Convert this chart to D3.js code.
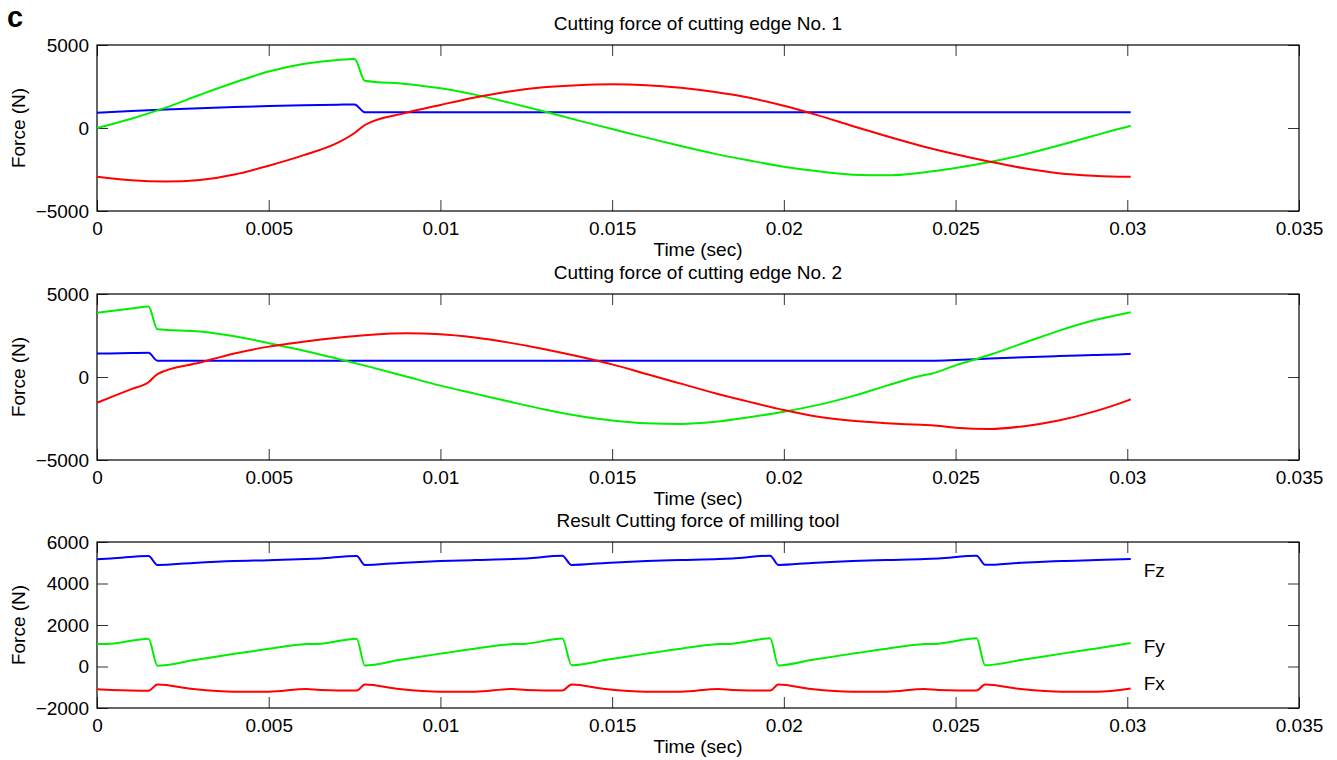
<!DOCTYPE html>
<html lang="en">
<head>
    <meta charset="UTF-8">
    <title>Cutting force</title>
    <script src="https://cdn.jsdelivr.net/npm/d3@7"></script>
    <style>
        body { margin: 0; background: #fff; }
        svg text { font-family: "Liberation Sans", Arial, sans-serif; fill: #000; }
        .tick line { stroke: #333; }
        .tick text { font-size: 19px; }
        .line { fill: none; stroke-width: 2; }
    </style>
</head>
<body>
    <svg width="1337" height="760"></svg>

    <script>
        // ---- data ----
        const xTicks = [0, 0.005, 0.01, 0.015, 0.02, 0.025, 0.03, 0.035];

        // cutting edge No. 1
        const time1 = [0, 0.001, 0.002, 0.003, 0.004, 0.005, 0.006, 0.007, 0.0075, 0.0078,
            0.009, 0.010, 0.011, 0.012, 0.013, 0.014, 0.015, 0.016, 0.017, 0.018, 0.019,
            0.020, 0.021, 0.022, 0.023, 0.024, 0.025, 0.026, 0.027, 0.028, 0.029, 0.030, 0.0301];
        const edge1Fx = [-2930, -3150, -3230, -3130, -2800, -2270, -1650, -900, -300, 180,
            910, 1390, 1840, 2200, 2450, 2580, 2630, 2580, 2420, 2170, 1820,
            1340, 760, 120, -500, -1080, -1580, -2030, -2430, -2720, -2870, -2930, -2930];
        const edge1Fy = [0, 560, 1230, 2000, 2740, 3400, 3850, 4100, 4160, 2850,
            2650, 2390, 2010, 1530, 1010, 460, -60, -580, -1090, -1560, -1960,
            -2330, -2610, -2810, -2850, -2690, -2410, -2050, -1600, -1050, -480, 80, 130];
        const edge1Fz = [920, 1020, 1110, 1190, 1260, 1320, 1370, 1400, 1420, 950,
            950, 950, 950, 950, 950, 950, 950, 950, 950, 950, 950,
            950, 950, 950, 950, 950, 950, 950, 950, 950, 950, 950, 950];

        // cutting edge No. 2
        const time2 = [0, 0.001, 0.0015, 0.00176, 0.003, 0.004, 0.005, 0.006, 0.007, 0.008,
            0.009, 0.010, 0.011, 0.012, 0.013, 0.014, 0.015, 0.016, 0.017, 0.018, 0.019,
            0.020, 0.021, 0.022, 0.023, 0.024, 0.0243, 0.025, 0.026, 0.027, 0.028, 0.029, 0.030, 0.0301];
        const edge2Fx = [-1550, -730, -320, 180, 870, 1420, 1830, 2120, 2360, 2540,
            2630, 2580, 2380, 2070, 1690, 1250, 760, 180, -400, -980, -1500,
            -1990, -2400, -2640, -2780, -2880, -2900, -3050, -3130, -2960, -2620, -2100, -1420, -1340];
        const edge2Fy = [3870, 4120, 4240, 2870, 2740, 2450, 2040, 1600, 1100, 580,
            30, -520, -1000, -1480, -1940, -2330, -2620, -2790, -2830, -2700, -2420,
            -2090, -1680, -1150, -520, 80, 200, 700, 1340, 2060, 2780, 3400, 3860, 3900];
        const edge2Fz = [1410, 1440, 1460, 980, 980, 980, 980, 980, 980, 980,
            980, 980, 980, 980, 980, 980, 980, 980, 980, 980, 980,
            980, 980, 980, 980, 980, 980, 1020, 1110, 1190, 1260, 1320, 1380, 1400];

        // resultant force of the milling tool
        const time3 = [0, 0.0004, 0.0015, 0.00176, 0.0028, 0.0040, 0.0050, 0.0061, 0.0065, 0.00756,
            0.0078, 0.0088, 0.0100, 0.0110, 0.0121, 0.0125, 0.01355,
            0.01382, 0.0148, 0.0160, 0.0170, 0.0181, 0.0185, 0.0196,
            0.01984, 0.0208, 0.0220, 0.0230, 0.0241, 0.0245, 0.02561,
            0.02586, 0.0269, 0.0281, 0.0291, 0.0301];
        const toolFz = [5170, 5200, 5330, 4890, 4990, 5080, 5120, 5180, 5210, 5330,
            4890, 4990, 5080, 5130, 5180, 5210, 5340,
            4890, 4990, 5080, 5130, 5180, 5210, 5340,
            4890, 4990, 5080, 5130, 5180, 5210, 5340,
            4900, 5000, 5090, 5130, 5180];
        const toolFy = [1080, 1100, 1340, 40, 300, 610, 850, 1080, 1100, 1340,
            50, 310, 620, 860, 1080, 1100, 1350,
            60, 310, 620, 860, 1080, 1100, 1360,
            50, 310, 620, 860, 1080, 1100, 1360,
            60, 310, 620, 870, 1130];
        const toolFx = [-1100, -1130, -1170, -870, -1090, -1220, -1220, -1080, -1130, -1160,
            -870, -1090, -1220, -1220, -1080, -1130, -1160,
            -870, -1090, -1220, -1220, -1080, -1130, -1160,
            -870, -1090, -1220, -1220, -1080, -1130, -1160,
            -870, -1090, -1220, -1220, -1060];

        const seriesNames = ["Fx", "Fy", "Fz"];
        const seriesColors = ["#ff0000", "#00ee00", "#0000ff"];

        const panels = [
            { title: "Cutting force of cutting edge No. 1", time: time1,
              series: [edge1Fz, edge1Fy, edge1Fx], yDomain: [-5000, 5000], yTicks: [-5000, 0, 5000] },
            { title: "Cutting force of cutting edge No. 2", time: time2,
              series: [edge2Fz, edge2Fy, edge2Fx], yDomain: [-5000, 5000], yTicks: [-5000, 0, 5000] },
            { title: "Result Cutting force of milling tool", time: time3,
              series: [toolFz, toolFy, toolFx], yDomain: [-2000, 6000], yTicks: [-2000, 0, 2000, 4000, 6000],
              labels: true }
        ];

        // ---- layout ----
        const svg = d3.select("svg");
        const left = 97, right = 1299, h = 166;
        const tops = [45, 294, 542];
        const tick = 11;

        const x = d3.scaleLinear().domain([0, 0.035]).range([0, right - left]);
        const fmtY = d => d < 0 ? "\u2212" + Math.abs(d) : String(d);

        svg.append("text")
            .attr("x", 7).attr("y", 27)
            .style("font-size", "29px").style("font-weight", "bold")
            .text("c");

        panels.forEach((p, i) => {
            const g = svg.append("g").attr("transform", `translate(${left},${tops[i]})`);
            const y = d3.scaleLinear().domain(p.yDomain).range([h, 0]);

            g.append("g").attr("transform", `translate(0,${h})`)
                .call(d3.axisBottom(x).tickValues(xTicks).tickSizeInner(-tick).tickSizeOuter(0)
                    .tickPadding(11).tickFormat(d => String(d)));
            g.append("g")
                .call(d3.axisTop(x).tickValues(xTicks).tickSizeInner(-tick).tickSizeOuter(0).tickFormat(""));
            g.append("g")
                .call(d3.axisLeft(y).tickValues(p.yTicks).tickSizeInner(-tick).tickSizeOuter(0)
                    .tickPadding(8).tickFormat(fmtY));
            g.append("g").attr("transform", `translate(${right - left},0)`)
                .call(d3.axisRight(y).tickValues(p.yTicks).tickSizeInner(-tick).tickSizeOuter(0).tickFormat(""));
            g.selectAll(".domain").remove();
            g.selectAll(".tick text").attr("fill", "#000").style("font-family", null);

            g.append("rect")
                .attr("width", right - left).attr("height", h)
                .attr("fill", "none").attr("stroke", "#000").attr("stroke-width", 1.2);

            const line = d3.line()
                .x((d, j) => x(p.time[j]))
                .y(d => y(d))
                .curve(d3.curveMonotoneX);

            p.series.forEach((s, k) => {
                g.append("path")
                    .attr("class", "line")
                    .attr("stroke", seriesColors[2 - k])
                    .attr("d", line(s));
            });

            if (p.labels) {
                // Fz, Fy, Fx sit a little below the end of their curves
                const offs = [18, 10, 1.5];
                p.series.forEach((s, k) => {
                    g.append("text")
                        .attr("x", x(p.time[p.time.length - 1]) + 13)
                        .attr("y", y(s[s.length - 1]) + offs[k])
                        .style("font-size", "19px")
                        .text(seriesNames[2 - k]);
                });
            }

            g.append("text")
                .attr("x", (right - left) / 2).attr("y", -15)
                .attr("text-anchor", "middle").style("font-size", "19px")
                .text(p.title);

            g.append("text")
                .attr("x", (right - left) / 2).attr("y", h + 45)
                .attr("text-anchor", "middle").style("font-size", "19px")
                .text("Time (sec)");

            g.append("text")
                .attr("transform", `translate(${25 - left},${h / 2}) rotate(-90)`)
                .attr("text-anchor", "middle").style("font-size", "19px")
                .text("Force (N)");
        });
    </script>
</body>
</html>
